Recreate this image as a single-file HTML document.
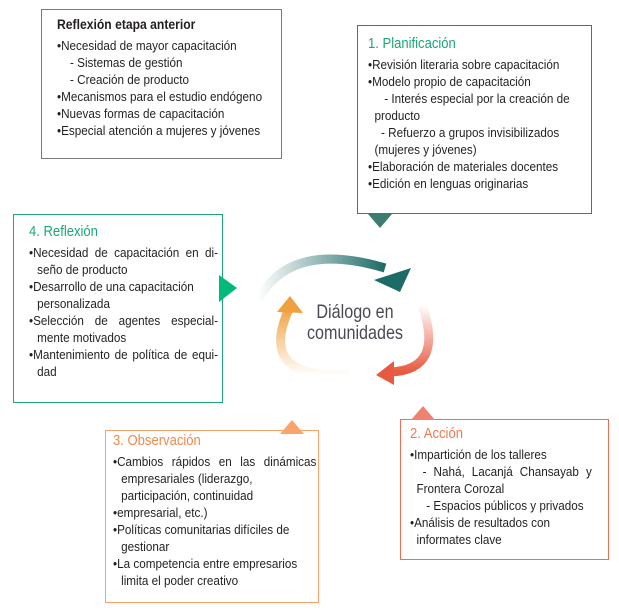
<!DOCTYPE html>
<html><head><meta charset="utf-8"><style>
body{margin:0;width:619px;height:611px;background:#fff;position:relative;overflow:hidden;font-family:"Liberation Sans",sans-serif;color:#231f20}
.b{position:absolute;box-sizing:border-box;background:#fff}
.t{position:absolute;font-size:13px;line-height:17px;white-space:nowrap;transform:scaleX(0.9);transform-origin:0 0}
.f{text-align:justify;text-align-last:justify;white-space:normal}
h{display:block;font-size:14.5px;line-height:20px}
.p{padding-left:9px}
</style></head><body>
<div class="b" style="left:41px;top:9px;width:241px;height:150px;border:1px solid #7a7a7a"></div>
<div class="t" style="left:57px;top:15px;">
<h style="font-weight:bold;font-size:13.5px;margin-bottom:2px">Reflexión etapa anterior</h>
•Necesidad de mayor capacitación<br>&nbsp;&nbsp;&nbsp;&nbsp;- Sistemas de gestión<br>&nbsp;&nbsp;&nbsp;&nbsp;- Creación de producto<br>•Mecanismos para el estudio endógeno<br>•Nuevas formas de capacitación<br><span style="line-height:14px">•Especial atención a mujeres y jóvenes</span></div>

<div class="b" style="left:357px;top:25px;width:235px;height:189px;border:1px solid #3d7d70"></div>
<div class="t" style="left:368px;top:34px;">
<h style="color:#1aa873;margin-bottom:2px">1. Planificación</h>
•Revisión literaria sobre capacitación<br>•Modelo propio de capacitación<br>&nbsp;&nbsp;&nbsp;&nbsp;&nbsp;- Interés especial por la creación de<br>&nbsp;&nbsp;producto<br>&nbsp;&nbsp;&nbsp;&nbsp;- Refuerzo a grupos invisibilizados<br>&nbsp;&nbsp;(mujeres y jóvenes)<br>•Elaboración de materiales docentes<br>•Edición en lenguas originarias</div>

<div class="b" style="left:13px;top:214px;width:210px;height:189px;border:1px solid #1aa873"></div>
<div class="t" style="left:29px;top:222px;width:210px">
<h style="color:#1aa873;margin-bottom:2px">4. Reflexión</h>
<div class="f">•Necesidad de capacitación en di-</div>
<div class="p">seño de producto</div>
<div>•Desarrollo de una capacitación</div>
<div class="p">personalizada</div>
<div class="f">•Selección de agentes especial-</div>
<div class="p">mente motivados</div>
<div class="f">•Mantenimiento de política de equi-</div>
<div class="p">dad</div></div>

<div class="b" style="left:105px;top:430px;width:214px;height:173px;border:1px solid #f7a06a"></div>
<div class="t" style="left:113px;top:431px;width:226px">
<h style="color:#f08a4b;margin-bottom:2px">3. Observación</h>
<div class="f">•Cambios rápidos en las dinámicas</div>
<div class="p">empresariales (liderazgo,</div>
<div class="p">participación, continuidad</div>
<div>•empresarial, etc.)</div>
<div>•Políticas comunitarias difíciles de</div>
<div class="p">gestionar</div>
<div>•La competencia entre empresarios</div>
<div class="p">limita el poder creativo</div></div>

<div class="b" style="left:400px;top:419px;width:209px;height:141px;border:1px solid #ef6f55"></div>
<div class="t" style="left:410px;top:424px;width:202px">
<h style="color:#f07a50;margin-bottom:2px">2. Acción</h>
•Impartición de los talleres<br><div class="f" style="padding-left:14px">- Nahá, Lacanjá Chansayab y</div>&nbsp;&nbsp;Frontera Corozal<br>&nbsp;&nbsp;&nbsp;&nbsp;&nbsp;- Espacios públicos y privados<br>•Análisis de resultados con<br>&nbsp;&nbsp;informates clave</div>

<svg width="619" height="611" style="position:absolute;left:0;top:0">
<defs>
<linearGradient id="gt" x1="0" y1="0" x2="1" y2="0"><stop offset="0" stop-color="#2a6f6a" stop-opacity="0"/><stop offset="1" stop-color="#1c6b66"/></linearGradient>
<linearGradient id="go" x1="0" y1="1" x2="0" y2="0"><stop offset="0" stop-color="#f0a040" stop-opacity="0"/><stop offset="1" stop-color="#f0a040"/></linearGradient>
<linearGradient id="gr" x1="0" y1="0" x2="0" y2="1"><stop offset="0" stop-color="#e85a40" stop-opacity="0"/><stop offset="1" stop-color="#e85a40"/></linearGradient>
</defs>
<polygon points="368,214 392,214 380,228" fill="#3d7d70"/>
<polygon points="219,275 237,288 219,302" fill="#00b97c"/>
<polygon points="280,434 304,434 292,420" fill="#f9a46b"/>
<polygon points="411,420 435,420 423,406" fill="#f08070"/>
<path d="M258,300 Q290,240 385,268" stroke="url(#gt)" stroke-width="9" fill="none"/>
<polygon points="374,280 411,268 400,292" fill="#1c6b66"/>
<path d="M350,375 Q255,380 290,307" stroke="url(#go)" stroke-width="9" fill="none"/>
<polygon points="277,312 290,296 303,313" fill="#f0a040"/>
<path d="M422,305 Q445,370 390,372" stroke="url(#gr)" stroke-width="9" fill="none"/>
<polygon points="394,361 376,375 394,385" fill="#e85a40"/>
<g transform="translate(355,0) scale(0.85,1)">
<text x="0" y="318" text-anchor="middle" font-family="Liberation Sans,sans-serif" font-size="19" fill="#4a4a55">Diálogo en</text>
<text x="0" y="339" text-anchor="middle" font-family="Liberation Sans,sans-serif" font-size="19" fill="#4a4a55">comunidades</text>
</g>
</svg>
</body></html>
